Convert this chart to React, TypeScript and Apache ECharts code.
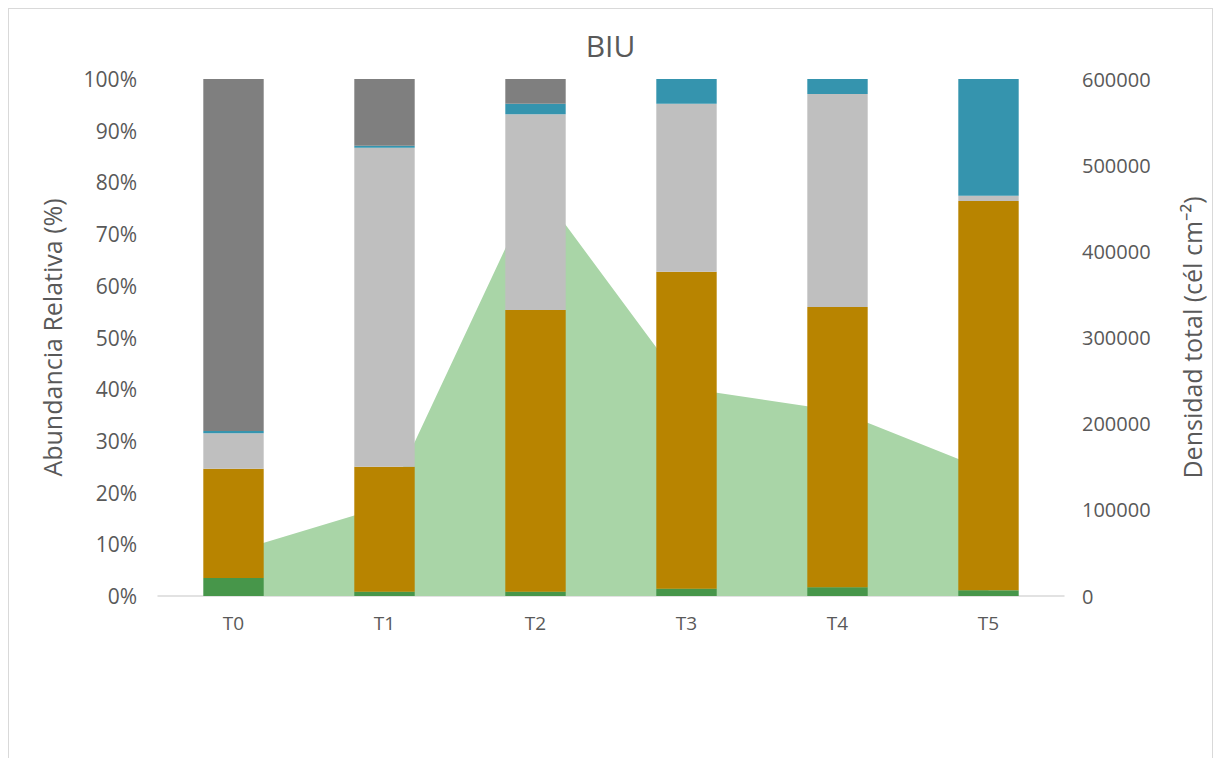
import React, { useEffect, useRef } from "react";
import * as echarts from "echarts";

// Sampling times
const categories = ["T0", "T1", "T2", "T3", "T4", "T5"];

// Relative abundance per group (%), stacked to 100
const grupoVerde = [3.5, 0.8, 0.8, 1.4, 1.7, 1.1];
const grupoDorado = [21.1, 24.2, 54.5, 61.3, 54.2, 75.3];
const grupoGrisClaro = [6.9, 61.7, 37.9, 32.5, 41.2, 1.0];
const grupoAzul = [0.4, 0.4, 2.0, 4.8, 2.9, 22.6];
const grupoGrisOscuro = [68.1, 12.9, 4.8, 0, 0, 0];

// Total density (cél cm⁻²)
const densidadTotal = [51000, 104000, 478000, 241000, 215000, 145000];

const FONT = "'Open Sans', 'Noto Sans', sans-serif";
const TEXT = "#595959";

export default function App() {
  const ref = useRef<HTMLDivElement>(null);

  useEffect(() => {
    if (!ref.current) return;
    const chart = echarts.init(ref.current, undefined, { renderer: "svg" });

    const bar = (name: string, data: number[], color: string) => ({
      name,
      type: "bar",
      stack: "abundancia",
      yAxisIndex: 0,
      barWidth: "40%",
      data,
      itemStyle: { color },
      z: 3,
    });

    chart.setOption({
      animation: false,
      backgroundColor: "#ffffff",
      textStyle: { fontFamily: FONT },
      title: {
        text: "BIU",
        left: "center",
        top: 21,
        padding: 0,
        textStyle: { fontFamily: FONT, fontSize: 30, fontWeight: "normal", color: TEXT },
      },
      grid: { left: 149, right: 148, top: 70, height: 517 },
      xAxis: {
        type: "category",
        data: categories,
        axisLine: { lineStyle: { color: "#D9D9D9", width: 1.5 } },
        axisTick: { show: false },
        axisLabel: { color: TEXT, fontSize: 19, fontFamily: FONT, margin: 17 },
      },
      yAxis: [
        {
          type: "value",
          min: 0,
          max: 100,
          interval: 10,
          name: "Abundancia Relativa (%)",
          nameLocation: "middle",
          nameGap: 94,
          nameTextStyle: { color: TEXT, fontSize: 25, fontFamily: FONT },
          axisLine: { show: false },
          axisTick: { show: false },
          splitLine: { show: false },
          axisLabel: { color: TEXT, fontSize: 21, fontFamily: FONT, formatter: "{value}%", margin: 21 },
        },
        {
          type: "value",
          min: 0,
          max: 600000,
          interval: 100000,
          name: "Densidad total (cél cm⁻²)",
          nameLocation: "middle",
          nameGap: 115,
          nameRotate: 90,
          nameTextStyle: { color: TEXT, fontSize: 25, fontFamily: FONT },
          axisLine: { show: false },
          axisTick: { show: false },
          splitLine: { show: false },
          axisLabel: {
            color: TEXT,
            fontSize: 20,
            fontFamily: FONT,
            margin: 18,
            formatter: (v: number) => String(v),
          },
        },
      ],
      series: [
        {
          name: "Densidad total",
          type: "line",
          yAxisIndex: 1,
          data: densidadTotal,
          showSymbol: false,
          lineStyle: { width: 0 },
          areaStyle: { color: "#A9D5A7", opacity: 1 },
          z: 1,
        },
        bar("Grupo verde", grupoVerde, "#47964A"),
        bar("Grupo dorado", grupoDorado, "#B88400"),
        bar("Grupo gris claro", grupoGrisClaro, "#BFBFBF"),
        bar("Grupo azul", grupoAzul, "#3594AE"),
        bar("Grupo gris oscuro", grupoGrisOscuro, "#7F7F7F"),
      ],
    });

    return () => chart.dispose();
  }, []);

  return (
    <div style={{ border: "1px solid #D9D9D9", width: 1203, height: 800 }}>
      <div ref={ref} style={{ width: 1203, height: 800 }} />
    </div>
  );
}
